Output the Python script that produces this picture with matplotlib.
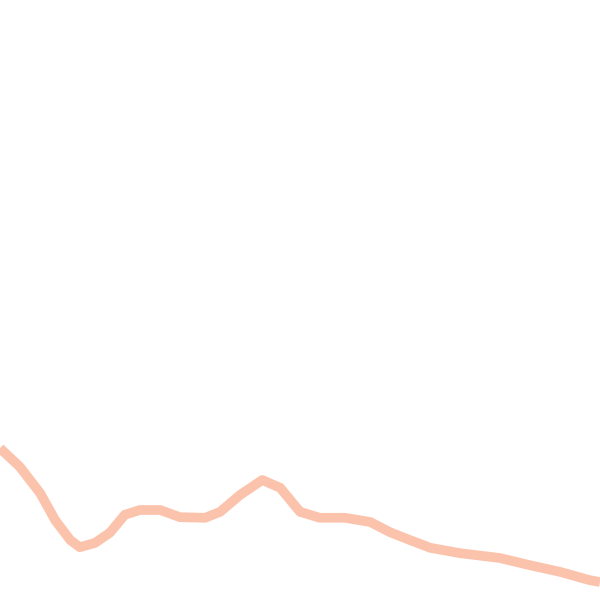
import matplotlib
matplotlib.use('Agg')
import matplotlib.pyplot as plt

# 数据
x_vals = [0, 3.3, 6.7, 9.2, 11.7, 13.3, 15.8, 18.3, 20.8, 23.3, 26.7, 30, 34.2, 36.7,
          40, 43.7, 46.7, 50, 53.3, 57.5, 61.7, 65, 68.3, 71.7, 76.7, 83.3, 88.3,
          93.3, 98.3, 100]
y_vals = [25.3, 22.2, 17.8, 13.3, 10.0, 8.8, 9.5, 11.2, 14.2, 15.0, 15.0, 13.8, 13.7,
          14.7, 17.5, 20.0, 18.7, 14.7, 13.7, 13.7, 13.0, 11.3, 10.0, 8.7, 7.8, 7.0,
          5.8, 4.7, 3.3, 3.0]

fig = plt.figure(figsize=(6, 6), dpi=100)
ax = fig.add_axes([0, 0, 1, 1])
ax.plot(x_vals, y_vals, color='#fcb99e', linewidth=7, alpha=0.85,
        solid_capstyle='butt', solid_joinstyle='round')
ax.set_xlim(0, 100)
ax.set_ylim(0, 100)
ax.axis('off')

plt.savefig('out.png', dpi=100)
plt.close()
